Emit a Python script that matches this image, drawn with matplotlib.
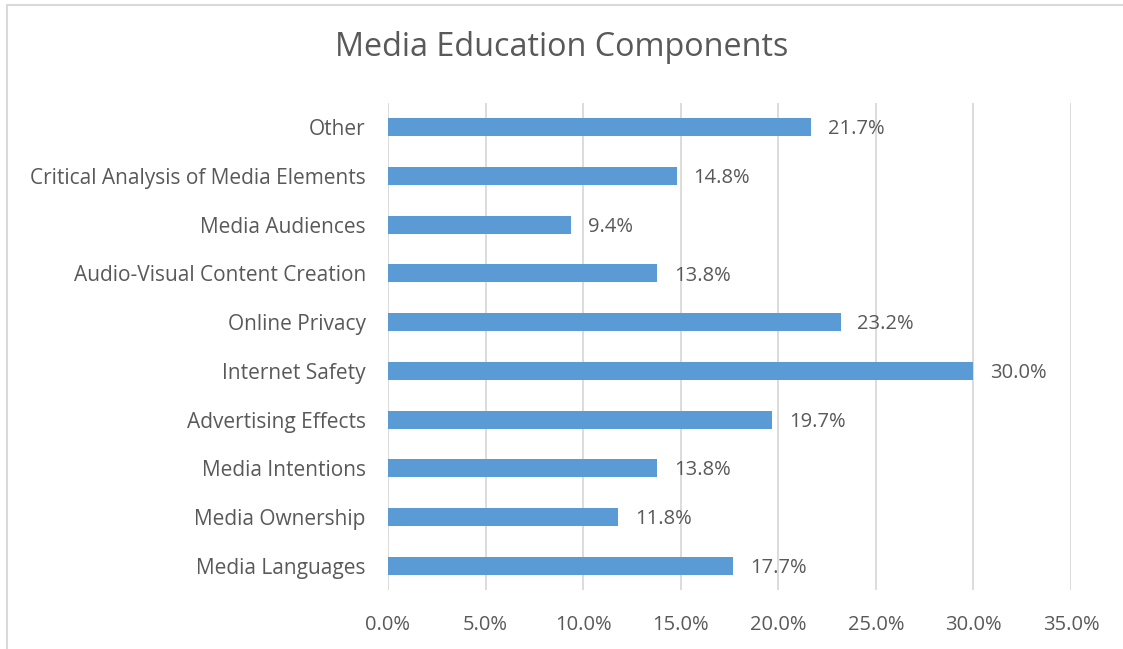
import matplotlib
matplotlib.use("Agg")
import matplotlib.pyplot as plt
import matplotlib.ticker
from matplotlib.patches import Rectangle

categories = ["Media Languages", "Media Ownership", "Media Intentions", "Advertising Effects",
              "Internet Safety", "Online Privacy", "Audio-Visual Content Creation",
              "Media Audiences", "Critical Analysis of Media Elements", "Other"]
values = [0.177, 0.118, 0.138, 0.197, 0.300, 0.232, 0.138, 0.094, 0.148, 0.217]
labels = ["17.7%", "11.8%", "13.8%", "19.7%", "30.0%", "23.2%", "13.8%", "9.4%", "14.8%", "21.7%"]

plt.rcParams["font.family"] = ["Open Sans", "DejaVu Sans"]
text_color = "#595959"

figure = plt.figure(figsize = (11.23, 6.49), dpi = 100)
axes = figure.add_axes([0.3455, 0.0909, 0.6082, 0.7504])

# chart border (only left and top visible in the crop)
figure.patches.append(Rectangle((7 / 1123, -0.1), 1.2, 1.1 - 5 / 649, transform = figure.transFigure,
                                fill = False, edgecolor = "#d9d9d9", linewidth = 1.5))

positions = range(len(categories))
axes.barh(positions, values, height = 0.37, color = "#5B9BD5", zorder = 3)
for pos, value, label in zip(positions, values, labels):
    axes.annotate(label, (value, pos), xytext = (12, -1.5), textcoords = "offset points",
                  va = "center", ha = "left", fontsize = 14.5, color = text_color)

axes.set_xlim(0, 0.35)
axes.set_ylim(-0.5, len(categories) - 0.5)
axes.xaxis.set_major_locator(matplotlib.ticker.MultipleLocator(0.05))
axes.xaxis.set_major_formatter(matplotlib.ticker.FuncFormatter(lambda x, p: "{0:.1f}%".format(x * 100)))
axes.set_yticks(list(positions))
axes.set_yticklabels(categories)
axes.grid(axis = "x", color = "#d9d9d9", linewidth = 1.3, zorder = 0)
for spine in axes.spines.values():
    spine.set_visible(False)
axes.tick_params(axis = "both", length = 0, labelsize = 14.5, labelcolor = text_color)
axes.tick_params(axis = "y", labelsize = 15)
axes.tick_params(axis = "x", pad = 18)
axes.tick_params(axis = "y", pad = 16)

figure.text(0.5, 1 - 48 / 649, "Media Education Components", ha = "center", va = "center",
            fontsize = 23.3, color = text_color)

figure.savefig("out.png", dpi = 100)
